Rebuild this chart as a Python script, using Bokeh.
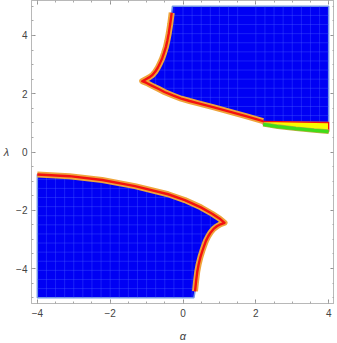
import numpy as np
from bokeh.plotting import figure
from bokeh.models import LinearAxis, FixedTicker, Range1d
from bokeh.embed import file_html
from bokeh.resources import INLINE

# ---- data ----
upper_left_x = [-1.12, -1.03, -0.93, -0.84, -0.76, -0.69, -0.63, -0.57, -0.52, -0.47, -0.43, -0.39, -0.35, -0.31]
upper_left_y = [2.43, 2.49, 2.56, 2.64, 2.76, 2.90, 3.05, 3.22, 3.40, 3.60, 3.82, 4.08, 4.40, 4.78]
upper_top_corner = (-0.29, 5.0)

upper_low_x = [-1.12, -1.00, -0.86, -0.68, -0.51, -0.28, -0.05, 0.18, 0.40, 0.85, 1.30, 1.75, 2.20]
upper_low_y = [2.43, 2.37, 2.28, 2.17, 2.06, 1.94, 1.83, 1.75, 1.68, 1.53, 1.38, 1.22, 1.06]

yellow_top_x = [2.20, 4.00]
yellow_top_y = [1.05, 1.01]

green_x = [2.20, 2.60, 3.10, 3.60, 4.00]
green_y = [0.95, 0.87, 0.80, 0.74, 0.70]

lower_top_x = [-4.00, -3.12, -2.22, -1.32, -0.41, 0.05, 0.49, 0.80, 1.00, 1.14]
lower_top_y = [-0.77, -0.83, -0.96, -1.17, -1.45, -1.65, -1.90, -2.12, -2.28, -2.43]

lower_right_x = [1.14, 1.03, 0.93, 0.84, 0.76, 0.69, 0.63, 0.58, 0.53, 0.48, 0.43, 0.39, 0.36, 0.33]
lower_right_y = [-2.43, -2.48, -2.55, -2.64, -2.76, -2.90, -3.05, -3.22, -3.40, -3.60, -3.85, -4.12, -4.42, -4.78]
lower_bottom_corner = (0.30, -5.0)

x_min, x_max = -4.0, 4.0
y_min, y_max = -5.0, 5.0

major_ticks = [-4, -2, 0, 2, 4]
major_labels = ["\u22124", "\u22122", "0", "2", "4"]
minor_ticks = list(np.arange(-5, 5.01, 0.5))

BLUE = "#0000f4"
MESH = "#4a62ff"
EDGE = "#7396e6"
ORANGE = "#efa43a"
RED = "#f21010"
YELLOW = "#fbfb00"
GREEN = "#40dc1a"
FRAME = "#b8b8b8"

# ---- polygons ----
up_x = list(upper_left_x) + [upper_top_corner[0], x_max, x_max] + \
    list(reversed(yellow_top_x))[1:] + list(reversed(upper_low_x))[1:]
up_y = list(upper_left_y) + [upper_top_corner[1], y_max, yellow_top_y[-1]] + \
    list(reversed(yellow_top_y))[1:] + list(reversed(upper_low_y))[1:]

lo_x = [x_min] + list(lower_top_x) + list(lower_right_x)[1:] + [lower_bottom_corner[0], x_min]
lo_y = [y_min] + list(lower_top_y) + list(lower_right_y)[1:] + [lower_bottom_corner[1], y_min]


def hits(px, py, level, horizontal):
    xs = np.asarray(px, float)
    ys = np.asarray(py, float)
    x2 = np.roll(xs, -1)
    y2 = np.roll(ys, -1)
    if horizontal:
        a, b, a2, b2 = ys, xs, y2, x2
    else:
        a, b, a2, b2 = xs, ys, x2, y2
    res = []
    for i in range(len(a)):
        if (a[i] - level) * (a2[i] - level) < 0:
            t = (level - a[i]) / (a2[i] - a[i])
            res.append(b[i] + t * (b2[i] - b[i]))
    res.sort()
    return [(res[k], res[k + 1]) for k in range(0, len(res) - 1, 2)]


mesh_xs, mesh_ys = [], []
for poly in [(up_x, up_y), (lo_x, lo_y)]:
    for c in np.arange(x_min + 0.25, x_max - 0.01, 0.25):
        for s, e in hits(poly[0], poly[1], c, False):
            mesh_xs.append([c, c]); mesh_ys.append([s, e])
    for c in np.arange(y_min + 0.3125, y_max - 0.01, 0.3125):
        for s, e in hits(poly[0], poly[1], c, True):
            mesh_xs.append([s, e]); mesh_ys.append([c, c])

# ---- figure ----
p = figure(frame_width=303, frame_height=303, x_range=Range1d(-4.16, 4.16), y_range=Range1d(-5.2, 5.2),
           output_backend="svg", toolbar_location=None,
           min_border_left=0, min_border_right=0, min_border_top=0, min_border_bottom=0)
p.xgrid.visible = False
p.ygrid.visible = False
p.outline_line_color = FRAME
p.background_fill_color = "white"
p.border_fill_color = "white"

xb = p.below[0]
yl = p.left[0]

p.patch(up_x, up_y, fill_color=BLUE, line_color=EDGE, line_width=1.5)
p.patch(lo_x, lo_y, fill_color=BLUE, line_color=EDGE, line_width=1.5)
p.multi_line(mesh_xs, mesh_ys, line_color=MESH, line_alpha=0.35, line_width=1)

# yellow wedge + green band
yw_x = [yellow_top_x[0], yellow_top_x[-1]] + list(reversed(green_x))
yw_y = [yellow_top_y[0], yellow_top_y[-1]] + list(reversed(green_y))
p.patch(yw_x, yw_y, fill_color=YELLOW, line_color=RED, line_width=1.4)
p.line(green_x, green_y, line_color="#b8b040", line_width=4.6)
p.line(green_x, green_y, line_color=GREEN, line_width=3.2)

# orange/red boundary bands
ub_x = list(reversed(upper_left_x)) + list(upper_low_x)[1:]
ub_y = list(reversed(upper_left_y)) + list(upper_low_y)[1:]
lb_x = list(lower_top_x) + list(lower_right_x)[1:]
lb_y = list(lower_top_y) + list(lower_right_y)[1:]
for bx, by in [(ub_x, ub_y), (lb_x, lb_y)]:
    p.line(bx, by, line_color=ORANGE, line_width=6, line_join="round")
    p.line(bx, by, line_color=RED, line_width=2.4, line_join="round")

# ---- axes ----
ticker = FixedTicker(ticks=major_ticks, minor_ticks=minor_ticks)

top = LinearAxis(ticker=ticker, major_label_overrides={t: "" for t in major_ticks})
right = LinearAxis(ticker=ticker, major_label_overrides={t: "" for t in major_ticks})
p.add_layout(top, "above")
p.add_layout(right, "right")

for ax in [xb, yl, top, right]:
    ax.ticker = ticker
    ax.axis_line_color = FRAME
    ax.major_tick_line_color = "#909090"
    ax.minor_tick_line_color = "#a8a8a8"
    ax.major_tick_in = 4
    ax.major_tick_out = 0
    ax.minor_tick_in = 2
    ax.minor_tick_out = 0
    ax.major_label_text_font = "Liberation Sans"
    ax.major_label_text_font_size = "10px"
    ax.major_label_text_color = "#444444"
    ax.major_label_standoff = 5

for ax in [xb, yl]:
    ax.major_label_overrides = dict(zip(major_ticks, major_labels))

for ax in [top, right]:
    ax.major_label_standoff = 0

xb.axis_label = "α"
yl.axis_label = "λ"
for ax in [xb, yl]:
    ax.axis_label_text_font = "Liberation Sans"
    ax.axis_label_text_font_style = "italic"
    ax.axis_label_text_font_size = "11px"
    ax.axis_label_text_color = "#444444"
xb.axis_label_standoff = 10
yl.axis_label_orientation = "horizontal"
yl.axis_label_standoff = 4
yl.major_label_standoff = 4

open("out.html", "w").write(file_html(p, INLINE))
